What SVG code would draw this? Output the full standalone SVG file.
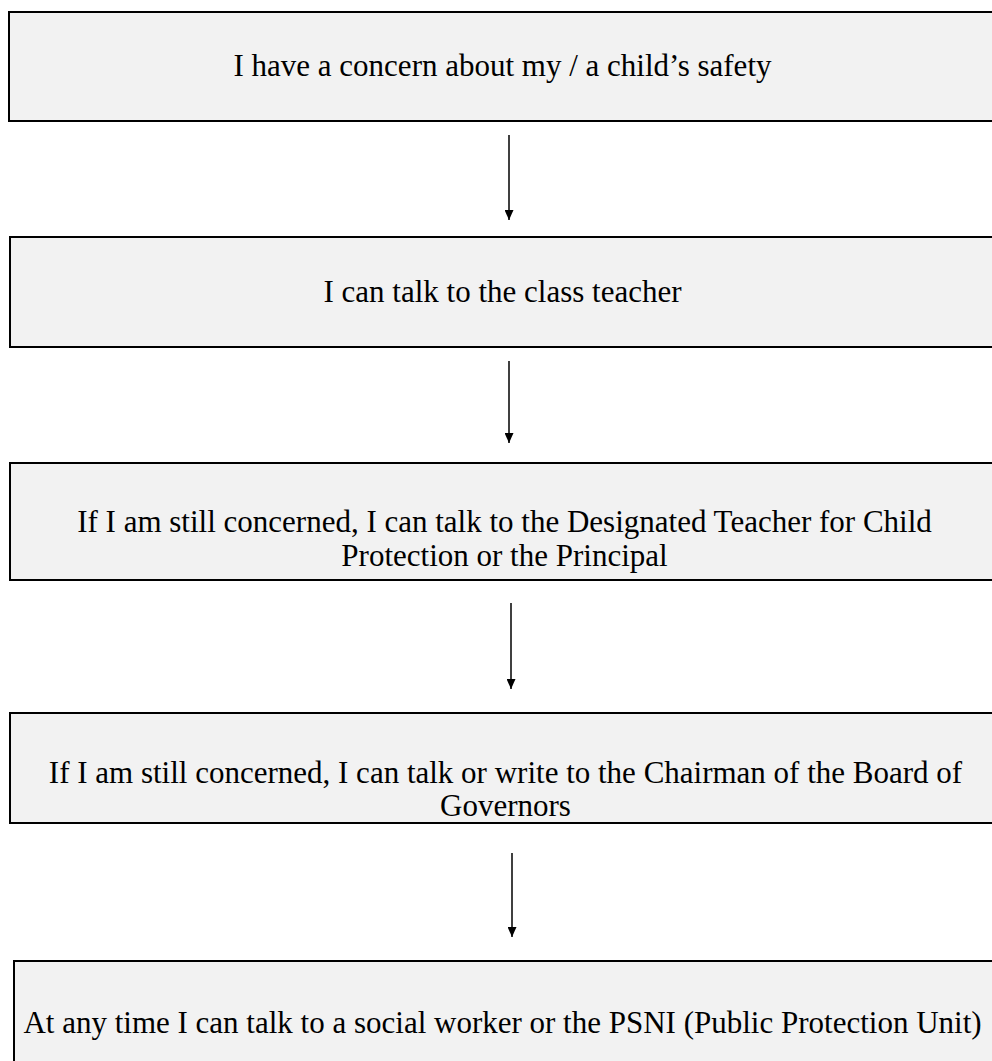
<svg xmlns="http://www.w3.org/2000/svg" width="992" height="1061" viewBox="0 0 992 1061">
<style>
.box{fill:#f2f2f2;stroke:#000;stroke-width:2}
.t{font-family:"Liberation Serif","Times New Roman",serif;font-size:31px;fill:#000;text-anchor:middle}
.c{stroke:#000;stroke-width:1.5;fill:none}
</style>
<defs>
<marker id="ah" viewBox="0 0 10 10" refX="10" refY="5" markerWidth="10" markerHeight="9" markerUnits="userSpaceOnUse" orient="auto" preserveAspectRatio="none">
<path d="M0,0 L10,5 L0,10 z" fill="#000"/>
</marker>
</defs>
<rect width="992" height="1061" fill="#fff"/>
<g id="n1">
<rect class="box" x="9" y="12" width="1000" height="109"/>
<text class="t" x="502.5" y="76">I have a concern about my / a child’s safety</text>
</g>
<g id="n2">
<rect class="box" x="10" y="237" width="1000" height="110"/>
<text class="t" x="502.5" y="302">I can talk to the class teacher</text>
</g>
<g id="n3">
<rect class="box" x="10" y="463" width="1000" height="117"/>
<text class="t" x="504.5" y="532">If I am still concerned, I can talk to the Designated Teacher for Child</text>
<text class="t" x="504.5" y="566">Protection or the Principal</text>
</g>
<g id="n4">
<rect class="box" x="10" y="713" width="1000" height="110"/>
<text class="t" x="505.5" y="783">If I am still concerned, I can talk or write to the Chairman of the Board of</text>
<text class="t" x="505.5" y="816">Governors</text>
</g>
<g id="n5">
<rect class="box" x="14" y="961" width="1000" height="120"/>
<text class="t" x="502.5" y="1033">At any time I can talk to a social worker or the PSNI (Public Protection Unit)</text>
</g>
<g id="connectors">
<line class="c" x1="509" y1="135" x2="509" y2="220" marker-end="url(#ah)"/>
<line class="c" x1="509" y1="361" x2="509" y2="443" marker-end="url(#ah)"/>
<line class="c" x1="511" y1="603" x2="511" y2="689" marker-end="url(#ah)"/>
<line class="c" x1="512" y1="853" x2="512" y2="937" marker-end="url(#ah)"/>
</g>
</svg>
